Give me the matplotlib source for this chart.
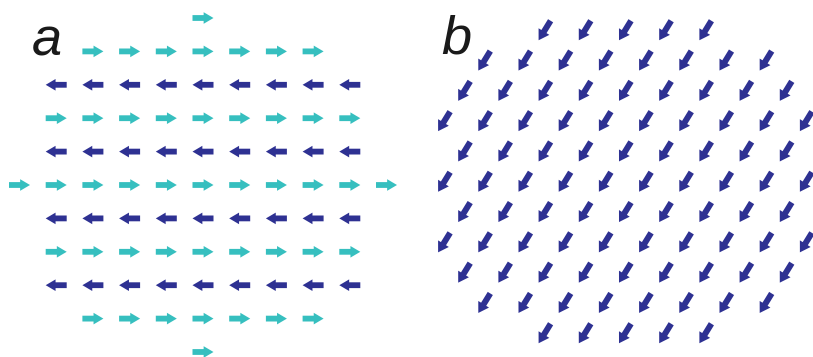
import numpy as np
import matplotlib.pyplot as plt

# panel a: square lattice, one row per entry (top to bottom)
a_row_counts = [1, 7, 9, 9, 9, 11, 9, 9, 9, 7, 1]
a_row_dirs = [1, 1, -1, 1, -1, 1, -1, 1, -1, 1, 1]   # +1 right, -1 left

# panel b: triangular lattice, every arrow the same direction
b_row_counts = [5, 8, 9, 10, 9, 10, 9, 10, 9, 8, 5]
b_dir = (-12, 19.5)   # down-left

CYAN = '#36bfbf'
NAVY = '#2e3192'

fig = plt.figure(figsize=(8.13, 3.57), dpi=100)
ax = fig.add_axes([0, 0, 1, 1])
ax.set_xlim(0, 813)
ax.set_ylim(357, 0)
ax.axis('off')


def lattice(counts, cx, cy, sx, sy):
    xs, ys, rows = [], [], []
    n = len(counts)
    for r, c in enumerate(counts):
        y = cy + (r - (n - 1) / 2) * sy
        for k in range(c):
            xs.append(cx + (k - (c - 1) / 2) * sx)
            ys.append(y)
            rows.append(r)
    return np.array(xs), np.array(ys), np.array(rows)


qkw = dict(angles='xy', scale_units='xy', scale=1, units='xy', pivot='middle')

# a
xa, ya, ra = lattice(a_row_counts, 203, 185, 36.7, 33.4)
da = np.array(a_row_dirs)[ra]
ua = da * 21.0
cols = [CYAN if d > 0 else NAVY for d in da]
ax.quiver(xa, ya, ua, np.zeros_like(ua), color=cols, width=5.8,
          headwidth=2.0, headlength=1.7, headaxislength=1.7, **qkw)

# b
xb, yb, _ = lattice(b_row_counts, 625, 182, 40.2, 30.3)
ub = np.full_like(xb, b_dir[0], dtype=float)
vb = np.full_like(xb, b_dir[1], dtype=float)
ax.quiver(xb, yb, ub, vb, color=NAVY, width=6.0,
          headwidth=2.1, headlength=1.7, headaxislength=1.7, **qkw)

ax.text(32, 55, 'a', fontsize=39, style='italic', family='Liberation Sans',
        va='baseline', color='#1a1a1a')
ax.text(441, 53, 'b', fontsize=39, style='italic', family='Liberation Sans',
        va='baseline', color='#1a1a1a')

fig.savefig('out.png', dpi=100)
